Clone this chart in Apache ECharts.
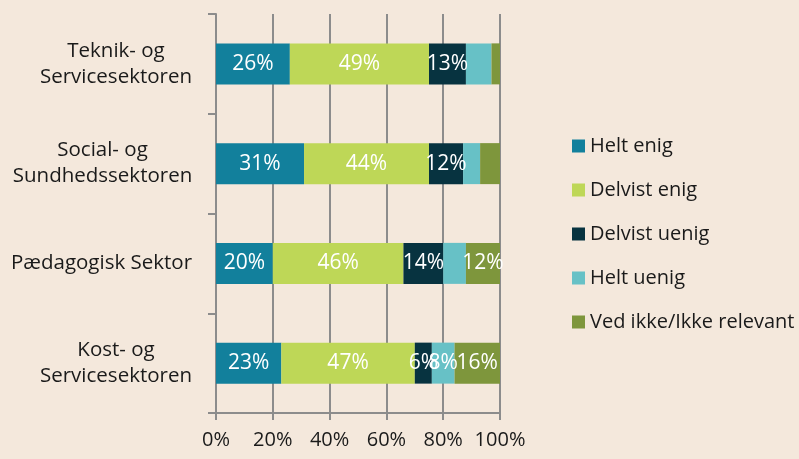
<!DOCTYPE html>
<html>
<head>
<meta charset="utf-8">
<script src="https://cdn.jsdelivr.net/npm/echarts@6/dist/echarts.min.js"></script>
<style>
  html, body { margin: 0; padding: 0; background: #F4E8DC; }
  #chart { width: 799px; height: 459px; }
</style>
</head>
<body>
<div id="chart"></div>
<script>
// categories, bottom to top (ECharts category y-axis runs upward)
var sectors = ['Kost- og\nServicesektoren', 'Pædagogisk Sektor', 'Social- og\nSundhedssektoren', 'Teknik- og\nServicesektoren'];
var answers = ['Helt enig', 'Delvist enig', 'Delvist uenig', 'Helt uenig', 'Ved ikke/Ikke relevant'];
var colors = ['#12809C', '#BED757', '#073340', '#67C1C6', '#7E963C'];

var heltEnig = [23, 20, 31, 26];
var delvistEnig = [47, 46, 44, 49];
var delvistUenig = [6, 14, 12, 13];
var heltUenig = [8, 8, 6, 9];
var vedIkke = [16, 12, 7, 3];

// which labels are printed in the original (1 = shown)
var shownHeltUenig = [1, 0, 0, 0];
var shownVedIkke = [1, 1, 0, 0];

var xTicks = [0, 20, 40, 60, 80, 100];

var FONT = 'Open Sans';
var catFontSize = 20.5;

var allValues = [heltEnig, delvistEnig, delvistUenig, heltUenig, vedIkke];
var shown = [[1, 1, 1, 1], [1, 1, 1, 1], [1, 1, 1, 1], shownHeltUenig, shownVedIkke];

// each category label: lines centred on each other, block right-aligned at the axis
var ctx = document.createElement('canvas').getContext('2d');
ctx.font = catFontSize + 'px "' + FONT + '"';
var catRich = {};
sectors.forEach(function (s, i) {
    var w = 0;
    s.split('\n').forEach(function (line) { w = Math.max(w, ctx.measureText(line).width); });
    catRich['c' + i] = { width: Math.ceil(w) + 1, align: 'center', fontSize: catFontSize, fontFamily: FONT, color: '#1a1a1a', lineHeight: 26 };
});

var series = allValues.map(function (vals, i) {
    return {
        name: answers[i],
        type: 'bar',
        stack: 'total',
        barWidth: 41,
        itemStyle: { color: colors[i] },
        label: {
            show: true,
            color: '#ffffff',
            fontSize: 21,
            fontFamily: FONT,
            formatter: '{c}%'
        },
        data: vals.map(function (v, j) {
            return { value: v, label: { show: shown[i][j] === 1 } };
        })
    };
});

var chart = echarts.init(document.getElementById('chart'));
chart.setOption({
    backgroundColor: '#F4E8DC',
    animation: false,
    grid: { left: 216, right: 299, top: 14, bottom: 46 },
    legend: {
        orient: 'vertical',
        left: 567,
        top: 131,
        itemWidth: 13,
        itemHeight: 13,
        itemGap: 24,
        icon: 'rect',
        textStyle: { color: '#1a1a1a', fontSize: 20, lineHeight: 20, fontFamily: FONT },
        data: answers
    },
    xAxis: {
        type: 'value',
        min: 0,
        max: 100,
        interval: 20,
        axisLine: { show: true, lineStyle: { color: '#8c8c8c', width: 2 } },
        axisTick: { show: true, length: 7, lineStyle: { color: '#8c8c8c', width: 2 } },
        splitLine: { show: true, lineStyle: { color: '#8c8c8c', width: 2 } },
        axisLabel: {
            color: '#1a1a1a',
            fontSize: 20,
            fontFamily: FONT,
            margin: 17,
            formatter: function (v) { return xTicks.indexOf(v) >= 0 ? v + '%' : ''; }
        }
    },
    yAxis: {
        type: 'category',
        data: sectors,
        axisLine: { show: true, lineStyle: { color: '#8c8c8c', width: 2 } },
        axisTick: { show: true, length: 8, lineStyle: { color: '#8c8c8c', width: 2 } },
        axisLabel: {
            margin: 23,
            align: 'right',
            rich: catRich,
            formatter: function (v, idx) {
                return v.split('\n').map(function (line) { return '{c' + idx + '|' + line + '}'; }).join('\n');
            }
        }
    },
    series: series
});
</script>
</body>
</html>
